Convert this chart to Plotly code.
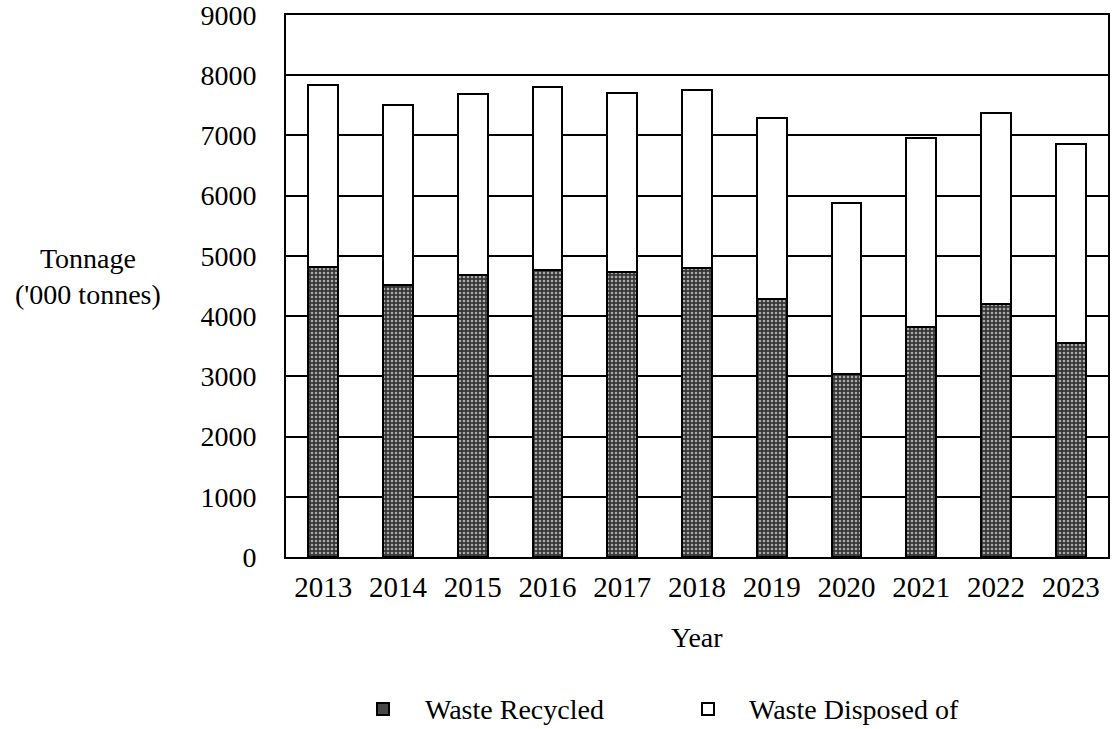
import plotly.graph_objects as go

# Annual waste tonnage ('000 tonnes)
years = ["2013", "2014", "2015", "2016", "2017", "2018",
         "2019", "2020", "2021", "2022", "2023"]
waste_recycled = [4820, 4510, 4690, 4770, 4740, 4800, 4290, 3040, 3820, 4200, 3550]
waste_disposed = [3020, 2990, 3000, 3040, 2970, 2960, 3000, 2840, 3140, 3170, 3310]
y_ticks = [0, 1000, 2000, 3000, 4000, 5000, 6000, 7000, 8000, 9000]
series_names = ["Waste Recycled", "Waste Disposed of"]
series_fills = ["#474747", "white"]

FONT = "Liberation Serif, Times New Roman, serif"
W, H = 1116, 729
M_L, M_R, M_T, M_B = 286, 8, 15, 172
PLOT_W = W - M_L - M_R
PLOT_H = H - M_T - M_B


def px_to_paper(px, py):
    """Convert a page pixel position into paper coordinates."""
    return (px - M_L) / PLOT_W, (H - M_B - py) / PLOT_H


fig = go.Figure()
fig.add_trace(go.Bar(
    x=years, y=waste_recycled, name=series_names[0],
    marker=dict(
        color=series_fills[0],
        line=dict(color="black", width=2),
        pattern=dict(shape=".", bgcolor="#363636", fgcolor="#a8a8a8",
                     size=4, solidity=0.35, fillmode="replace"),
    ),
))
fig.add_trace(go.Bar(
    x=years, y=waste_disposed, name=series_names[1],
    marker=dict(color=series_fills[1], line=dict(color="black", width=2)),
))

fig.update_layout(
    barmode="stack",
    bargap=0.6,
    width=W, height=H,
    margin=dict(l=M_L, r=M_R, t=M_T, b=M_B, autoexpand=False),
    paper_bgcolor="white", plot_bgcolor="white",
    font=dict(family=FONT, size=28, color="black"),
    showlegend=False,
)

fig.update_yaxes(
    range=[0, 9000], tickvals=y_ticks, ticktext=[str(v) for v in y_ticks],
    showgrid=True, gridcolor="black", gridwidth=1.5,
    showline=True, linecolor="black", linewidth=2, mirror=True,
    ticks="", ticklabelstandoff=22, zeroline=False,
    ticklabeloverflow="allow", automargin=False,
    tickfont=dict(family=FONT, size=28, color="black"),
)
fig.update_xaxes(
    showgrid=False, showline=True, linecolor="black", linewidth=2, mirror=True,
    ticks="", ticklabelstandoff=3, automargin=False,
    tickfont=dict(family=FONT, size=29, color="black"),
)

# Axis titles
fig.add_annotation(text="Year", x=0.5, y=px_to_paper(0, 637)[1],
                   xref="paper", yref="paper", showarrow=False,
                   xanchor="center", yanchor="middle",
                   font=dict(family=FONT, size=28, color="black"))
fig.add_annotation(text="Tonnage<br>('000 tonnes)",
                   x=px_to_paper(88, 0)[0], y=px_to_paper(0, 276)[1],
                   xref="paper", yref="paper", showarrow=False,
                   xanchor="center", yanchor="middle", align="center",
                   font=dict(family=FONT, size=28, color="black"))

# Legend: swatch + label for each series
legend_items = [(377, 423), (702, 747)]
sw = 12
cy = 709
for (sx, tx), name, fill in zip(legend_items, series_names, series_fills):
    x0, y0 = px_to_paper(sx, cy + sw / 2)
    x1, y1 = px_to_paper(sx + sw, cy - sw / 2)
    fig.add_shape(type="rect", xref="paper", yref="paper",
                  x0=x0, y0=y0, x1=x1, y1=y1,
                  fillcolor=fill, line=dict(color="black", width=2))
    tx_p, ty_p = px_to_paper(tx, cy)
    fig.add_annotation(text=name, x=tx_p, y=ty_p, xref="paper", yref="paper",
                       showarrow=False, xanchor="left", yanchor="middle",
                       font=dict(family=FONT, size=28, color="black"))

fig.write_html("out.html")
